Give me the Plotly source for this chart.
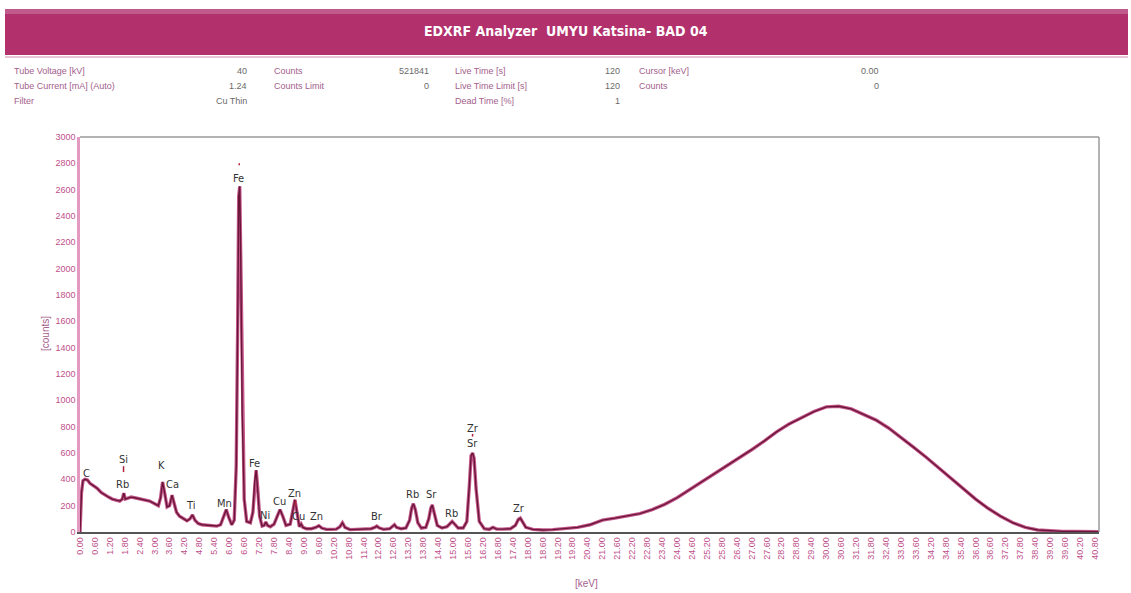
import plotly.graph_objects as go

# ---- spectrum (energy in keV, counts) ----
energy_kev = [
    0.00, 0.06, 0.12, 0.20, 0.30, 0.40, 0.55, 0.70, 0.85, 1.00, 1.15, 1.30, 1.45, 1.60,
    1.70, 1.76, 1.82, 1.90, 2.05, 2.20, 2.40, 2.60, 2.80, 3.00, 3.15, 3.24, 3.32, 3.40,
    3.50, 3.60, 3.70, 3.78, 3.88, 4.00, 4.15, 4.30, 4.42, 4.52, 4.62, 4.75, 4.90, 5.10,
    5.30, 5.50, 5.65, 5.78, 5.88, 5.98, 6.10, 6.20, 6.28, 6.34, 6.38, 6.42, 6.46, 6.52,
    6.60, 6.70, 6.85, 6.95, 7.02, 7.08, 7.14, 7.22, 7.32, 7.40, 7.47, 7.54, 7.65, 7.80,
    7.93, 8.04, 8.15, 8.28, 8.45, 8.56, 8.64, 8.72, 8.82, 8.89, 8.96, 9.10, 9.30, 9.48,
    9.60, 9.72, 9.90, 10.10, 10.30, 10.45, 10.55, 10.65, 10.85, 11.10, 11.40, 11.70,
    11.85, 11.93, 12.02, 12.20, 12.45, 12.58, 12.64, 12.72, 12.90, 13.10, 13.25, 13.33,
    13.40, 13.48, 13.58, 13.72, 13.90, 14.02, 14.10, 14.16, 14.24, 14.36, 14.55, 14.75,
    14.88, 14.96, 15.06, 15.20, 15.40, 15.55, 15.65, 15.72, 15.78, 15.84, 15.92, 16.05,
    16.25, 16.45, 16.60, 16.75, 17.00, 17.30, 17.50, 17.62, 17.70, 17.78, 17.92, 18.20,
    18.60, 19.00, 19.50, 20.00, 20.50, 21.00, 21.50, 22.00, 22.50, 23.00, 23.50, 24.00,
    24.50, 25.00, 25.50, 26.00, 26.50, 27.00, 27.50, 28.00, 28.50, 29.00, 29.50, 30.00,
    30.50, 31.00, 31.50, 32.00, 32.50, 33.00, 33.50, 34.00, 34.50, 35.00, 35.50, 36.00,
    36.50, 37.00, 37.50, 38.00, 38.50, 39.00, 39.50, 40.00, 40.50, 40.96,
]
counts = [
    0, 300, 390, 400, 395, 370, 350, 330, 300, 280, 265, 250, 240, 235,
    250, 295, 250, 255, 265, 260, 250, 245, 235, 215, 200, 260, 380, 300,
    190, 200, 280, 220, 150, 120, 100, 85, 100, 130, 90, 65, 55, 50,
    45, 45, 55, 120, 170, 110, 55, 90, 500, 1600, 2550, 2625, 2100, 900,
    250, 80, 70, 150, 380, 470, 340, 120, 45, 50, 75, 50, 40, 60,
    120, 170, 120, 50, 60, 170, 245, 150, 40, 60, 35, 25, 25, 35,
    48, 30, 20, 20, 22, 40, 70, 35, 18, 20, 20, 25,
    35, 45, 32, 20, 25, 45, 55, 35, 25, 30, 90, 180,
    215, 170, 70, 30, 35, 100, 180, 205, 150, 50, 30, 40,
    65, 80, 60, 30, 30, 80, 350, 580, 600, 560, 330, 80,
    25, 20, 35, 22, 22, 25, 50, 95, 105, 80, 35, 20,
    15, 18, 25, 35, 55, 90, 105, 120, 140, 170, 210, 260,
    320, 380, 440, 500, 560, 625, 690, 760, 820, 870, 915, 950,
    955, 935, 895, 850, 790, 720, 645, 570, 490, 410, 330, 250,
    180, 120, 70, 35, 15, 8, 5, 4, 3, 2,
]

# ---- element line labels ----
elem_names = ["C", "Si", "Rb", "K", "Ca", "Ti", "Mn", "Fe", "Fe", "Ni", "Cu", "Zn",
              "Cu", "Zn", "Br", "Rb", "Sr", "Rb", "Zr", "Sr", "Zr"]
elem_kev = [0.28, 1.73, 1.69, 3.29, 3.73, 4.46, 5.82, 6.39, 7.03, 7.43, 8.03, 8.63,
            8.80, 9.52, 11.93, 13.37, 14.14, 14.94, 15.78, 15.78, 17.63]
elem_label_y = [448, 554, 357, 508, 364, 205, 220, 2687, 524, 129, 228, 296,
                121, 121, 121, 288, 288, 144, 789, 675, 175]

# ---- acquisition parameters ----
info_labels_1 = ["Tube Voltage [kV]", "Tube Current [mA] (Auto)", "Filter"]
info_values_1 = ["40", "1.24", "Cu Thin"]
info_labels_2 = ["Counts", "Counts Limit"]
info_values_2 = ["521841", "0"]
info_labels_3 = ["Live Time [s]", "Live Time Limit [s]", "Dead Time [%]"]
info_values_3 = ["120", "120", "1"]
info_labels_4 = ["Cursor [keV]", "Counts"]
info_values_4 = ["0.00", "0"]

TITLE = "EDXRF Analyzer  UMYU Katsina- BAD 04"

W, H = 1131, 593
L, R, T, B = 80, 1099, 137, 532   # plot-area pixel box


def px(x):
    return (x - L) / (R - L)


def py(y):
    return (B - y) / (B - T)


fig = go.Figure()
fig.add_trace(go.Scatter(x=energy_kev, y=counts, mode="lines",
                         line=dict(color="#c4588c", width=3.4),
                         hoverinfo="skip", showlegend=False))
fig.add_trace(go.Scatter(x=energy_kev, y=counts, mode="lines",
                         line=dict(color="#6a1538", width=1.4),
                         showlegend=False))

NARROW = "DejaVu Sans Condensed, Liberation Sans Narrow, Liberation Sans, Arial, sans-serif"
annotations = []
for name, e, yv in zip(elem_names, elem_kev, elem_label_y):
    annotations.append(dict(x=e, y=yv, xref="x", yref="y", text=name, showarrow=False,
                            xanchor="center", yanchor="middle",
                            font=dict(family=NARROW, size=11, color="#333333")))

# small line markers above some labels
shapes = []
for e, y0, y1 in [(1.75, 455, 500), (8.66, 195, 235), (15.78, 725, 745), (6.40, 2785, 2800)]:
    shapes.append(dict(type="line", xref="x", yref="y", x0=e, x1=e, y0=y0, y1=y1,
                       line=dict(color="#b0203c", width=1.5)))

# title banner
shapes.append(dict(type="rect", xref="paper", yref="paper", x0=px(5), x1=px(1128),
                   y0=py(55), y1=py(9), fillcolor="#b2306c", line=dict(width=0), layer="below"))
shapes.append(dict(type="rect", xref="paper", yref="paper", x0=px(5), x1=px(1128),
                   y0=py(14), y1=py(9), fillcolor="#c05a8c", line=dict(width=0), layer="below"))
shapes.append(dict(type="line", xref="paper", yref="paper", x0=px(5), x1=px(1128),
                   y0=py(57), y1=py(57), line=dict(color="#d48ab0", width=1)))
annotations.append(dict(x=px(566), y=py(31), xref="paper", yref="paper", text="<b>" + TITLE + "</b>",
                        showarrow=False, xanchor="center", yanchor="middle",
                        font=dict(family=NARROW, size=14, color="white")))

# top/right frame of the plot area
shapes.append(dict(type="line", xref="paper", yref="paper", x0=0, x1=1, y0=1, y1=1,
                   line=dict(color="#9a9a9a", width=1.5)))
shapes.append(dict(type="line", xref="paper", yref="paper", x0=1, x1=1, y0=0, y1=1,
                   line=dict(color="#9a9a9a", width=1.5)))

# parameter block
rows_y = [71, 86, 101]
label_col = "#a4608c"
value_col = "#6a6a6a"
INFO_FONT = "Liberation Sans, Arial, sans-serif"
for labels, values, lx, vx in [(info_labels_1, info_values_1, 12, 249),
                               (info_labels_2, info_values_2, 272, 431),
                               (info_labels_3, info_values_3, 453, 622),
                               (info_labels_4, info_values_4, 637, 881)]:
    for i, lab in enumerate(labels):
        annotations.append(dict(x=px(lx), y=py(rows_y[i]), xref="paper", yref="paper", text=lab,
                                showarrow=False, xanchor="left", yanchor="middle",
                                font=dict(family=INFO_FONT, size=9, color=label_col)))
    for i, val in enumerate(values):
        annotations.append(dict(x=px(vx), y=py(rows_y[i]), xref="paper", yref="paper", text=val,
                                showarrow=False, xanchor="right", yanchor="middle",
                                font=dict(family=INFO_FONT, size=9, color=value_col)))

# axis titles
annotations.append(dict(x=px(586), y=py(583), xref="paper", yref="paper", text="[keV]",
                        showarrow=False, xanchor="center", yanchor="middle",
                        font=dict(family=INFO_FONT, size=10, color="#a4608c")))
annotations.append(dict(x=px(45), y=py(334), xref="paper", yref="paper", text="[counts]",
                        textangle=-90, showarrow=False, xanchor="center", yanchor="middle",
                        font=dict(family=INFO_FONT, size=10, color="#a4608c")))

TICK_FONT = dict(family=INFO_FONT, size=9, color="#c0508a")

fig.update_layout(
    width=W, height=H,
    margin=dict(l=L, r=W - R, t=T, b=H - B, autoexpand=False),
    paper_bgcolor="white", plot_bgcolor="white",
    shapes=shapes, annotations=annotations,
    showlegend=False,
    xaxis=dict(range=[0, 40.96], tick0=0, dtick=0.6, tickformat=".2f", tickangle=-90,
               tickfont=TICK_FONT, showgrid=False, zeroline=False, automargin=False,
               showline=True, linecolor="#555555", linewidth=1.5, ticks=""),
    yaxis=dict(range=[0, 3000], dtick=200, tickfont=TICK_FONT, showgrid=False, zeroline=False,
               automargin=False,
               showline=True, linecolor="#e49ac0", linewidth=2.5, ticks=""),
)

fig.write_html("out.html")
